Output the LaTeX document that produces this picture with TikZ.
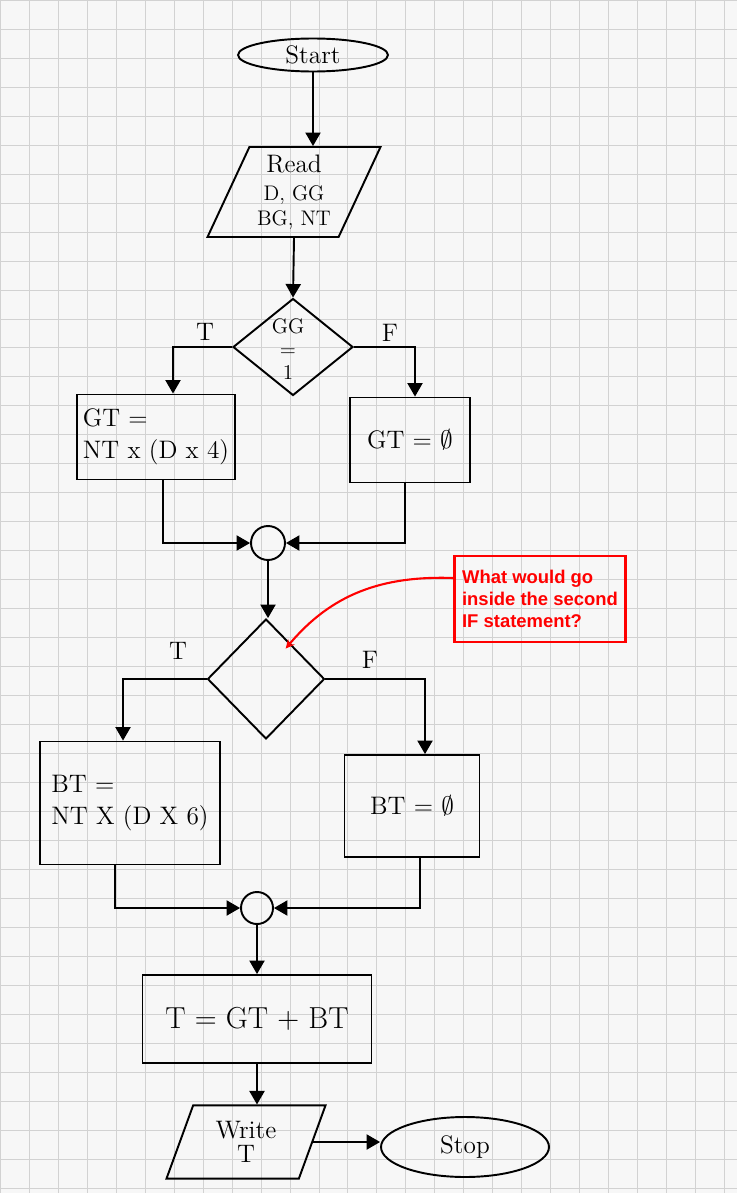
\documentclass[tikz,border=0pt]{standalone}
\usepackage{fontspec}
\newfontfamily\notefont{Liberation Sans}
\usepackage{tikz}
\usetikzlibrary{arrows}
\usetikzlibrary{shapes}

\begin{document}
\begin{tikzpicture}
      [x=0.02cm, y=-0.02cm,
        every node/.style={font=\Large},
        box/.style={draw, line width=1.1pt, rectangle},
        io/.style={draw, line width=1.1pt, trapezium, trapezium left angle=65,
          trapezium right angle=115, inner sep=0pt},
        term/.style={draw, line width=1.1pt, ellipse, inner sep=0pt},
        test/.style={draw, line width=1.1pt, diamond, inner sep=0pt},
        joint/.style={draw, line width=1.1pt, circle, minimum size=0.68cm},
        flow/.style={line width=1.1pt, -triangle 60},
        link/.style={line width=1.1pt}]
  \useasboundingbox (0,0) rectangle (737,1193);
  \fill[gray!6] (0,0) rectangle (737,1193);
  \draw[gray!35, line width=0.5pt, step=0.58cm] (0,0) grid (737,1193);

  \node[term, minimum width=3cm, minimum height=0.66cm] (start) at (313,55) {Start};
  \node[io, minimum width=3.24cm, minimum height=1.8cm, align=center] (read) at (294,192)
    {Read\\[-2pt]{\large D, GG}\\[-4pt]{\large BG, NT}};
  \node[test, minimum width=2.4cm, minimum height=1.94cm] (d1) at (293,347) {};
  \node[font=\large, align=center, inner sep=0pt] (d1text) at (288,349) {GG\\[-1pt]=\\[-1pt]1};
  \node[box, minimum width=3.14cm, minimum height=1.7cm, align=left] (gt1) at (156,437)
    {GT =\\NT x (D x 4)};
  \node[box, minimum width=2.4cm, minimum height=1.7cm] (gt0) at (410,440) {GT = $\emptyset$};
  \node[joint] (c1) at (268,543) {};
  \node[test, minimum width=2.34cm, minimum height=2.4cm] (d2) at (266,679) {};
  \node[box, minimum width=3.6cm, minimum height=2.46cm, align=left] (bt1) at (130,803)
    {BT =\\NT X (D X 6)};
  \node[box, minimum width=2.7cm, minimum height=2.04cm] (bt0) at (412,806) {BT = $\emptyset$};
  \node[joint, minimum size=0.64cm] (c2) at (257,908) {};
  \node[box, minimum width=4.58cm, minimum height=1.76cm, font=\LARGE] (tsum) at (257,1019) {T = GT + BT};
  \node[io, trapezium left angle=70, trapezium right angle=110, minimum width=3.2cm,
    minimum height=1.34cm, align=center] (write) at (246,1142) {Write\\[-4pt]T};
  \node[term, minimum width=3.36cm, minimum height=1.2cm] (stop) at (465,1147) {Stop};

  \node (t1) at (205,332) {T};
  \node (f1) at (390,333) {F};
  \node (t2) at (178,651) {T};
  \node (f2) at (370,660) {F};

  \node[draw=red, line width=1.2pt, minimum width=3.42cm, minimum height=1.72cm,
    align=left, text=red, font=\notefont\bfseries\fontsize{10.5}{12.5}\selectfont] (note) at (540,599)
    {What would go\\inside the second\\IF statement?};

  \draw[flow] (start.south) -- (start.south |- read.north);
  \draw[flow] (read.south) -- (d1.north);
  \draw[flow] (d1.west) -| ([xshift=0.34cm]gt1.north);
  \draw[flow] (d1.east) -| ([xshift=0.1cm]gt0.north);
  \draw[flow] ([xshift=0.14cm]gt1.south) |- (c1.west);
  \draw[flow] ([xshift=-0.1cm]gt0.south) |- (c1.east);
  \draw[flow] (c1.south) -- (c1.south |- d2.north);
  \draw[flow] (d2.west) -| ([xshift=-0.14cm]bt1.north);
  \draw[flow] (d2.east) -| ([xshift=0.26cm]bt0.north);
  \draw[flow] ([xshift=-0.3cm]bt1.south) |- (c2.west);
  \draw[flow] ([xshift=0.16cm]bt0.south) |- (c2.east);
  \draw[flow] (c2.south) -- (c2.south |- tsum.north);
  \draw[flow] (tsum.south) -- (tsum.south |- write.north);
  \draw[flow] (write.east) -- (write.east -| stop.west);
  \draw[red, line width=1.2pt, -stealth] ([yshift=0.42cm]note.west) to[out=178, in=50] ([xshift=-0.2cm]d2.north east);
\end{tikzpicture}
\end{document}
